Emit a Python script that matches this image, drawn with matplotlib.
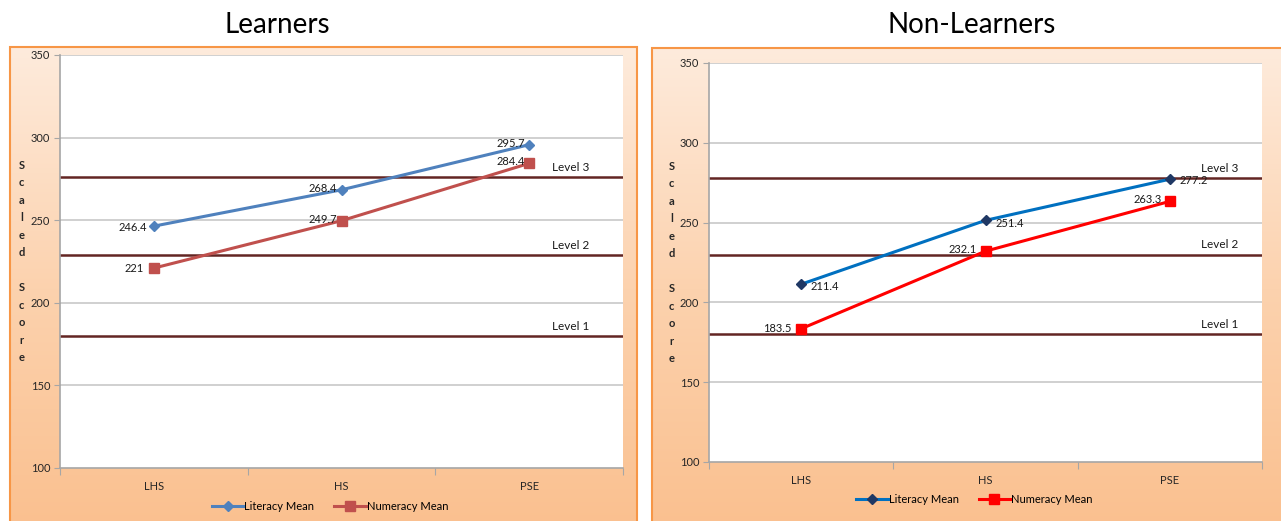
import numpy as np
import matplotlib
matplotlib.use("Agg")
import matplotlib.pyplot as plt
from matplotlib.patches import Rectangle
from matplotlib.colors import LinearSegmentedColormap

plt.rcParams["font.family"] = ["Lato", "DejaVu Sans"]

# ── data ──────────────────────────────────────────────────────────────
categories = ["LHS", "HS", "PSE"]
learners_literacy = [246.4, 268.4, 295.7]
learners_numeracy = [221, 249.7, 284.4]
nonlearners_literacy = [211.4, 251.4, 277.2]
nonlearners_numeracy = [183.5, 232.1, 263.3]
learners_levels = [180, 229, 276]
nonlearners_levels = [180, 230, 278]
level_names = ["Level 1", "Level 2", "Level 3"]
yticks = [100, 150, 200, 250, 300, 350]

W, H = 1281, 521
fig = plt.figure(figsize=(W / 100, H / 100), dpi=100)
fig.patch.set_facecolor("white")


def px_rect(x0, y0, x1, y1):
    # image pixel box (top-left origin) -> figure fraction rect
    return [x0 / W, 1 - y1 / H, (x1 - x0) / W, (y1 - y0) / H]


def frame(x0, y0, x1, y1):
    bg = fig.add_axes(px_rect(x0, y0, x1, y1))
    grad = np.linspace(0, 1, 256).reshape(-1, 1)
    cmap = LinearSegmentedColormap.from_list("sunset", ["#FEEBDC", "#FCD2AE", "#FAC08F"])
    bg.imshow(grad, aspect="auto", cmap=cmap, extent=[0, 1, 0, 1], origin="upper")
    bg.set_xlim(0, 1)
    bg.set_ylim(0, 1)
    bg.axis("off")
    bg.add_patch(Rectangle((0, 0), 1, 1, transform=bg.transAxes, fill=False,
                           edgecolor="#F79646", linewidth=1.5, clip_on=False))


def panel(rect, lit, num, levels, lit_line, lit_mark, num_col, lit_offsets, num_offsets, level_x):
    ax = fig.add_axes(rect)
    ax.set_facecolor("white")
    ax.set_xlim(0, 3)
    ax.set_ylim(100, 350)
    xs = np.arange(len(categories)) + 0.5

    for v in yticks[1:]:
        ax.axhline(v, color="#C8C8C8", linewidth=1.2, zorder=1)
    for lv, name in zip(levels, level_names):
        ax.axhline(lv, color="#632523", linewidth=1.8, zorder=2)
        ax.annotate(name, (level_x, lv), xytext=(0, 3), textcoords="offset points",
                    ha="center", va="bottom", fontsize=8.5, color="#1a1a1a")

    ax.plot(xs, lit, color=lit_line, linewidth=2.2, marker="D", markersize=5.5,
            markerfacecolor=lit_mark, markeredgecolor=lit_mark, zorder=4,
            label="Literacy Mean")
    ax.plot(xs, num, color=num_col, linewidth=2.2, marker="s", markersize=6.5,
            markerfacecolor=num_col, markeredgecolor=num_col, zorder=4,
            label="Numeracy Mean")

    for x, v, (dx, dy) in zip(xs, lit, lit_offsets):
        ax.annotate(f"{v:g}", (x, v), xytext=(dx, dy), textcoords="offset points",
                    ha="left" if dx > 0 else "right", va="center", fontsize=8,
                    color="#1a1a1a", zorder=5)
    for x, v, (dx, dy) in zip(xs, num, num_offsets):
        ax.annotate(f"{v:g}", (x, v), xytext=(dx, dy), textcoords="offset points",
                    ha="left" if dx > 0 else "right", va="center", fontsize=8,
                    color="#1a1a1a", zorder=5)

    for s in ["top", "right"]:
        ax.spines[s].set_visible(False)
    for s in ["left", "bottom"]:
        ax.spines[s].set_color("#A6A6A6")
        ax.spines[s].set_linewidth(1.2)

    ax.set_yticks(yticks)
    ax.set_yticklabels([str(t) for t in yticks], fontsize=8, color="#262626")
    ax.tick_params(axis="y", length=4, color="#A6A6A6", pad=3)
    ax.set_xticks([0, 1, 2, 3])
    ax.set_xticklabels([])
    ax.set_xticks(xs, minor=True)
    ax.set_xticklabels(categories, minor=True, fontsize=8, color="#262626")
    ax.tick_params(axis="x", which="major", length=5, color="#A6A6A6")
    ax.tick_params(axis="x", which="minor", length=0, pad=9)

    ax.set_ylabel("S\nc\na\nl\ne\nd\n\nS\nc\no\nr\ne", rotation=0, fontsize=8,
                  fontweight="bold", color="#262626", linespacing=1.72,
                  va="center", ha="center")
    ax.yaxis.set_label_coords(-0.068, 0.5)

    ax.legend(loc="upper center", bbox_to_anchor=(0.48, -0.055), ncol=2,
              frameon=False, fontsize=8, handlelength=2.8, columnspacing=1.8,
              handletextpad=0.1)
    return ax


# ── left: Learners ────────────────────────────────────────────────────
frame(10, 47, 637, 530)
panel(px_rect(60, 55, 623, 468), learners_literacy, learners_numeracy, learners_levels,
      "#4F81BD", "#4F81BD", "#C0504D",
      [(-5, -1), (-3, 1), (-3, 1)], [(-7, 0), (-3, 1), (-3, 1)], 2.72)
fig.text(277 / W, 1 - 25 / H, "Learners", ha="center", va="center", fontsize=20,
         color="black")

# ── right: Non-Learners ───────────────────────────────────────────────
frame(652, 48, 1300, 530)
panel(px_rect(709, 63, 1262, 462), nonlearners_literacy, nonlearners_numeracy,
      nonlearners_levels, "#0070C0", "#1F3864", "#FF0000",
      [(7, -2), (7, -2), (7, -1)], [(-7, 0), (-6, 1), (-6, 1)], 2.77)
fig.text(972 / W, 1 - 25 / H, "Non-Learners", ha="center", va="center", fontsize=20,
         color="black")

fig.savefig("out.png", dpi=100)
